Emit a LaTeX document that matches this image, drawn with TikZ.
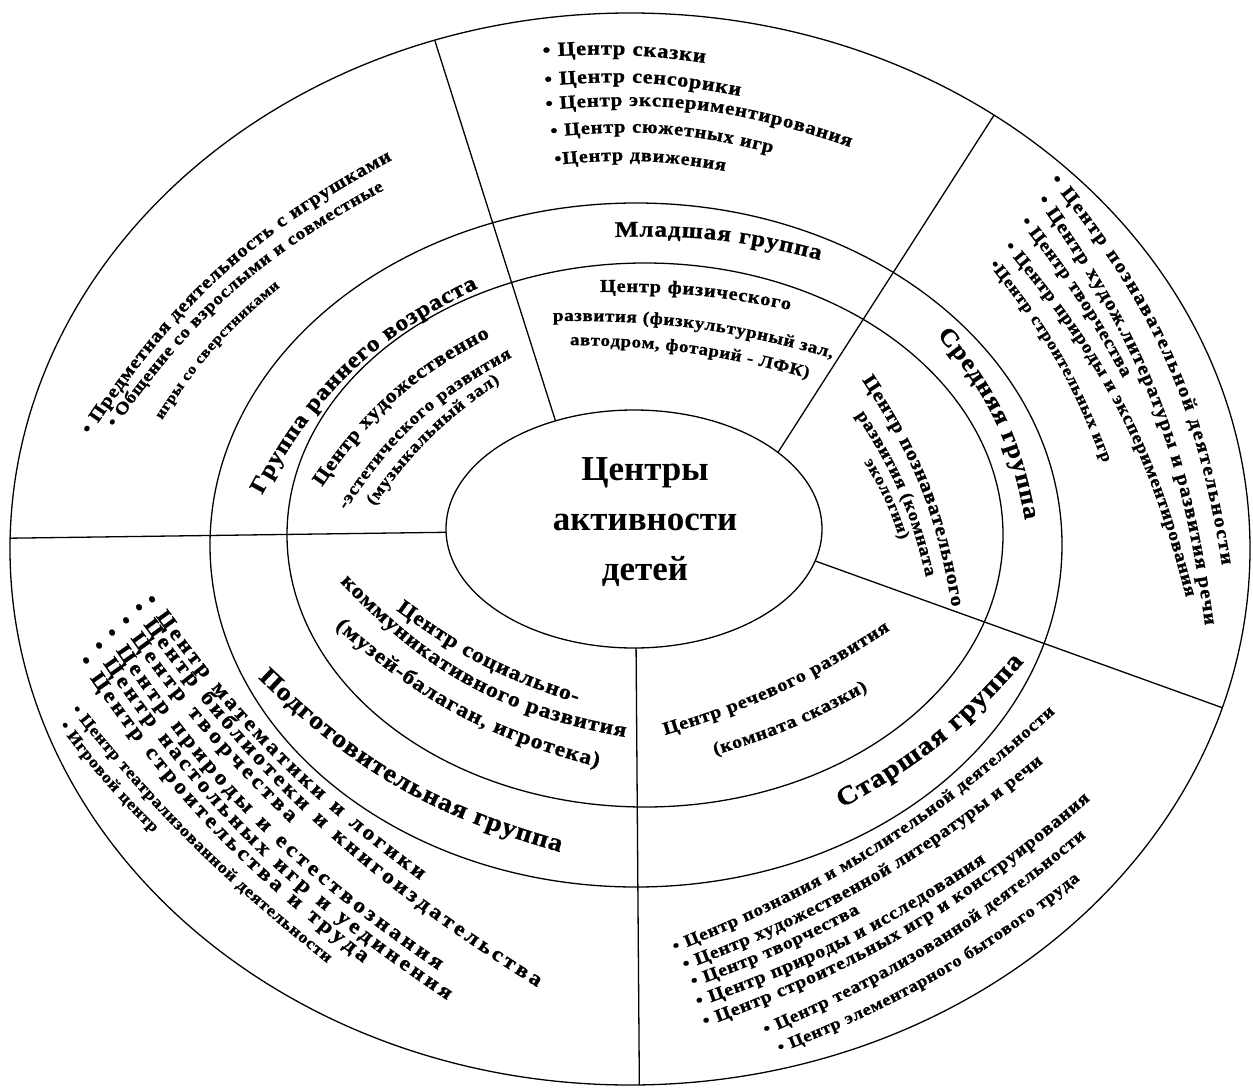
\documentclass[tikz,border=0pt]{standalone}
\usepackage{fontspec}
\setmainfont{Liberation Serif}
\newfontfamily\scanfont[FakeStretch=1.12, FakeBold=1]{Liberation Serif}
\usetikzlibrary{shapes.geometric,decorations.text}

\tikzset{
	ring/.style={draw, ellipse, line width=1.3pt, inner sep=0pt, outer sep=0pt},
	divider/.style={line width=1.3pt},
	title/.style={align=center, font=\fontsize{35}{50}\selectfont\bfseries}
}

\newdimen\arcw
\newcommand{\arcsize}{20}
\newcommand{\arcfont}{\fontsize{\arcsize}{\arcsize}\selectfont\scanfont\bfseries}
% [max size] {x1}{y1}{x2}{y2}{bend}{text}, y counted downwards
\newcommand{\arctext}[7][21]{%
	\setbox0=\hbox{\pgfinterruptpicture\fontsize{10}{10}\selectfont\scanfont\bfseries #7\endpgfinterruptpicture}%
	\arcw=\wd0
	\pgfmathsetmacro{\arcsize}{min(#1, 9.4*veclen(#4-#2,#5-#3)*rad(abs(#6))/sin(abs(#6))/\arcw)}%
	\path[decorate, decoration={text along path, text align={fit to path}, text={|\arcfont|#7}}] (#2,-#3) to[bend left=#6] (#4,-#5);}

\begin{document}
\begin{tikzpicture}[x=1pt, y=1pt]
	\path[fill=white] (0,-1092) rectangle (1253,0);
	\useasboundingbox (0,-1092) rectangle (1253,0);
	% anneaux
	\node[ring, minimum width=1240pt, minimum height=1072pt] (outer) at (630,-549) {};
	\node[ring, minimum width=852pt, minimum height=684pt] (middle) at (636,-545) {};
	\node[ring, minimum width=716pt, minimum height=544pt] (inner) at (645,-535) {};
	\node[ring, minimum width=376pt, minimum height=238pt] (core) at (634,-529) {};
	\node[title] (label) at (645,-522) {Центры\\активности\\детей};
	% secteurs
	\draw[divider] (core.126) -- (outer.111);
	\draw[divider] (core.28) -- (outer.50);
	\draw[divider] (core.350) -- (outer.345);
	\draw[divider] (core.271) -- (outer.271);
	\draw[divider] (core.181) -- (outer.179);
	% groupes
	\arctext[30]{262}{495}{478}{288}{18}{Группа раннего возраста}
	\arctext[30]{615}{237}{820}{260}{8}{Младшая группа}
	\arctext[30]{937}{335}{1025}{520}{15}{Средняя группа}
	\arctext[30]{258}{678}{560}{852}{-14}{Подготовительная группа}
	\arctext[30]{842}{808}{1024}{662}{-10}{Старшая группа}
	% centres (anneau interieur)
	\arctext{600}{292}{790}{310}{6}{Центр физического}
	\arctext{553}{321}{832}{358}{8}{развития (физкультурный зал,}
	\arctext{570}{345}{808}{378}{7}{автодром, фотарий - ЛФК)}
	\arctext{322}{487}{490}{337}{14}{Центр художественно}
	\arctext{346}{510}{512}{357}{14}{-эстетического развития}
	\arctext{374}{506}{500}{382}{10}{(музыкальный зал)}
	\arctext{862}{380}{952}{607}{12}{Центр познавательного}
	\arctext{856}{415}{926}{577}{10}{развития (комната}
	\arctext{864}{462}{900}{540}{7}{экологии)}
	\arctext{665}{735}{890}{630}{-8}{Центр речевого развития}
	\arctext{715}{755}{868}{690}{-6}{(комната сказки)}
	\arctext{396}{610}{577}{703}{-9}{Центр социально-}
	\arctext{340}{582}{625}{737}{-18}{коммуникативного развития}
	\arctext{335}{627}{598}{767}{-13}{(музей-балаган, игротека)}
	% младшая группа
	\arctext{543}{57}{705}{63}{6}{• Центр сказки}
	\arctext{545}{86}{740}{96}{8}{• Центр сенсорики}
	\arctext{546}{110}{850}{147}{12}{• Центр экспериментирования}
	\arctext{551}{137}{772}{153}{10}{• Центр сюжетных игр}
	\arctext{555}{165}{725}{171}{8}{•Центр движения}
	% группа раннего возраста
	\arctext{90}{435}{392}{160}{14}{• Предметная деятельность с игрушками}
	\arctext{115}{428}{384}{190}{13}{• Общение со взрослыми и совместные}
	\arctext{162}{420}{280}{287}{9}{игры со сверстниками}
	% средняя группа
	\arctext[19]{1050}{180}{1222}{565}{15}{• Центр познавательной деятельности}
	\arctext[19]{1037}{200}{1205}{625}{14}{• Центр худож.литературы и развития речи}
	\arctext[19]{1020}{222}{1123}{378}{5}{• Центр творчества}
	\arctext[19]{1004}{247}{1186}{597}{13}{• Центр природы и экспериментирования}
	\arctext[19]{989}{265}{1103}{463}{9}{•Центр строительных игр}
	% подготовительная группа
	\arctext[21]{144}{600}{420}{880}{-9}{• Центр математики и логики}
	\arctext[21]{131}{608}{537}{987}{-11}{• Центр библиотеки и книгоиздательства}
	\arctext[21]{118}{621}{290}{823}{-5}{• Центр творчества}
	\arctext[21]{104}{633}{438}{970}{-11}{• Центр природы и естествознания}
	\arctext[21]{91}{646}{447}{1000}{-11}{• Центр настольных игр и уединения}
	\arctext[21]{78}{661}{363}{963}{-9}{• Центр строительства и труда}
	\arctext[21]{71}{710}{327}{963}{-6}{• Центр театрализованной деятельности}
	\arctext[21]{59}{726}{153}{833}{-4}{• Игровой центр}
	% старшая группа
	\arctext{675}{952}{1055}{713}{-10}{• Центр познания и мыслительной деятельности}
	\arctext{685}{970}{1043}{763}{-9}{• Центр художественной литературы и речи}
	\arctext{693}{987}{860}{913}{-4}{• Центр творчества}
	\arctext{698}{1007}{986}{862}{-7}{• Центр природы и исследования}
	\arctext{705}{1027}{1090}{800}{-10}{• Центр строительных игр и конструирования}
	\arctext{766}{1035}{1086}{837}{-8}{• Центр театрализованной деятельности}
	\arctext{780}{1053}{1080}{880}{-8}{• Центр элементарного бытового труда}
\end{tikzpicture}
\end{document}
